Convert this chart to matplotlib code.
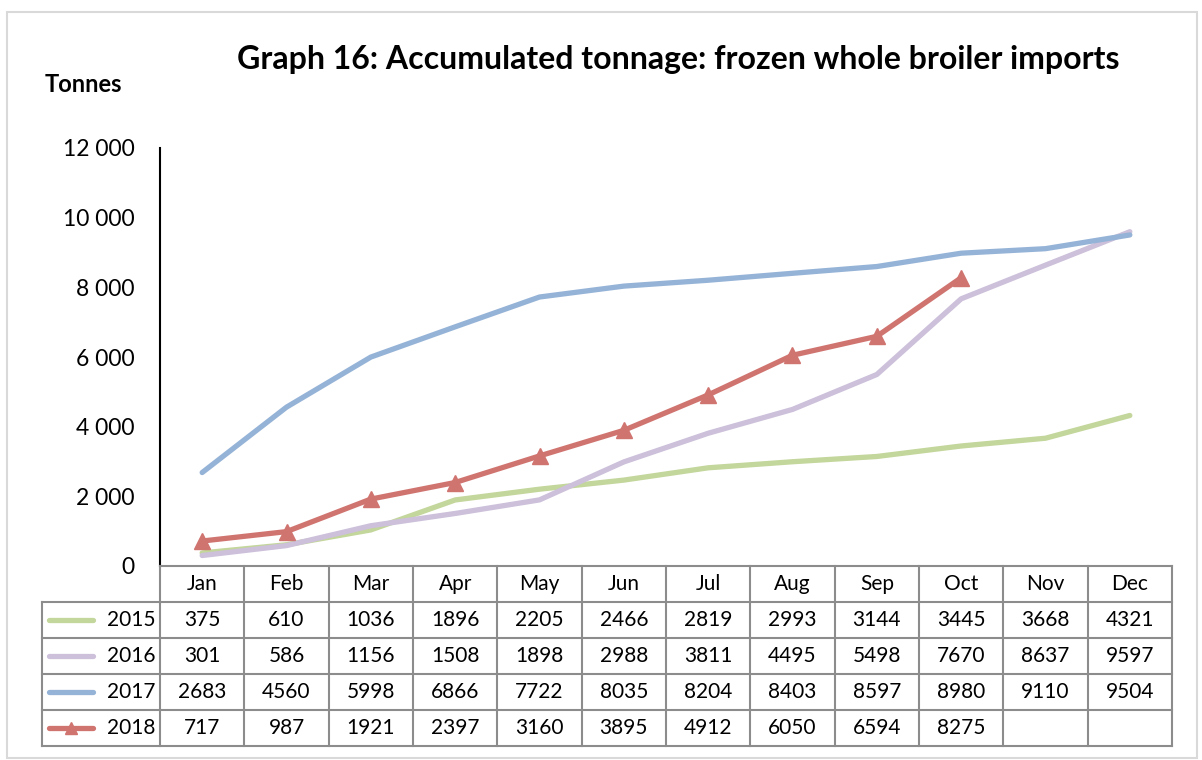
import matplotlib.pyplot as plt
import matplotlib.patches as patches
import numpy as np

plt.rcParams['font.family'] = ['Lato', 'DejaVu Sans']

months = ['Jan', 'Feb', 'Mar', 'Apr', 'May', 'Jun', 'Jul', 'Aug', 'Sep', 'Oct', 'Nov', 'Dec']
years = ['2015', '2016', '2017', '2018']
v2015 = [375, 610, 1036, 1896, 2205, 2466, 2819, 2993, 3144, 3445, 3668, 4321]
v2016 = [301, 586, 1156, 1508, 1898, 2988, 3811, 4495, 5498, 7670, 8637, 9597]
v2017 = [2683, 4560, 5998, 6866, 7722, 8035, 8204, 8403, 8597, 8980, 9110, 9504]
v2018 = [717, 987, 1921, 2397, 3160, 3895, 4912, 6050, 6594, 8275]
series = [v2015, v2016, v2017, v2018]
colors = ['#C3D69B', '#CCC0DA', '#95B3D7', '#D07470']
markers = [None, None, None, '^']
yticks = [0, 2000, 4000, 6000, 8000, 10000, 12000]

W, H = 1202, 760
fig = plt.figure(figsize=(W / 100, H / 100), dpi=100)

# outer frame
fig.patches.append(patches.Rectangle((7 / W, 2 / H), 1190 / W, 746 / H, transform=fig.transFigure,
                                     fill=False, edgecolor='#D9D9D9', linewidth=1.5))

# chart area
left, right = 160, 1172
ax = fig.add_axes([left / W, (H - 566) / H, (right - left) / W, (566 - 148) / H])
x = np.arange(len(months))
for vals, c, m in zip(series, colors, markers):
    ax.plot(x[:len(vals)], vals, color=c, linewidth=3.8, marker=m, markersize=12,
            solid_capstyle='round', solid_joinstyle='round')
ax.set_xlim(-0.5, len(months) - 0.5)
ax.set_ylim(0, 12000)
ax.set_yticks(yticks)
ax.set_yticklabels([f'{t:,}'.replace(',', ' ') for t in yticks], fontsize=16.5)
ax.tick_params(axis='y', length=0, pad=18)
ax.set_xticks([])
for s in ['top', 'right', 'bottom']:
    ax.spines[s].set_visible(False)
ax.spines['left'].set_linewidth(1.5)

fig.text(678 / W, (H - 60) / H, 'Graph 16: Accumulated tonnage: frozen whole broiler imports',
         ha='center', va='center', fontsize=23, fontweight='bold')
fig.text(45 / W, (H - 85) / H, 'Tonnes', ha='left', va='center', fontsize=17, fontweight='bold')

# data table below
tl = 42
colw = (right - left) / len(months)
x0 = -0.5 - (left - tl) / colw
tab = fig.add_axes([tl / W, (H - 746) / H, (right - tl) / W, (746 - 566) / H])
tab.set_xlim(x0, len(months) - 0.5)
tab.set_ylim(5, 0)
tab.axis('off')
grid = '#8C8C8C'
# horizontal lines
tab.plot([-0.5, len(months) - 0.5], [0, 0], color=grid, lw=1.5, clip_on=False)
for r in range(1, 6):
    tab.plot([x0, len(months) - 0.5], [r, r], color=grid, lw=1.5, clip_on=False)
# vertical lines
tab.plot([x0, x0], [1, 5], color=grid, lw=1.5, clip_on=False)
for i in range(len(months) + 1):
    tab.plot([i - 0.5, i - 0.5], [0, 5], color=grid, lw=1.5, clip_on=False)
for i, mth in enumerate(months):
    tab.text(i, 0.5, mth, ha='center', va='center', fontsize=15)
for r, (yr, vals, c, m) in enumerate(zip(years, series, colors, markers), start=1):
    tab.plot([x0 + 0.08, x0 + 0.6], [r + 0.5, r + 0.5], color=c, lw=3.8, solid_capstyle='round')
    if m:
        tab.plot([x0 + 0.34], [r + 0.5], color=c, marker=m, markersize=9)
    tab.text(-0.55, r + 0.5, yr, ha='right', va='center', fontsize=15)
    for i, v in enumerate(vals):
        tab.text(i, r + 0.5, str(v), ha='center', va='center', fontsize=15)

fig.savefig('out.png', dpi=100)
